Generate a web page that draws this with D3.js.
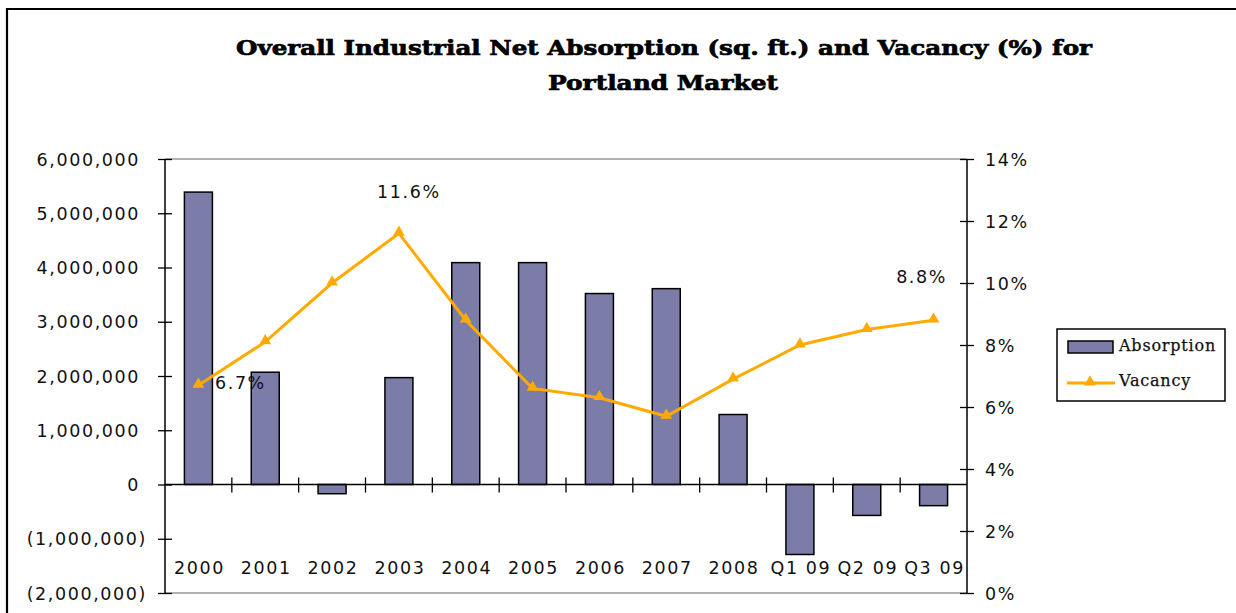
<!DOCTYPE html>
<html>
<head>
<meta charset="utf-8">
<script src="https://cdn.jsdelivr.net/npm/d3@7"></script>
<style>
  body { margin: 0; background: #fff; }
  svg { display: block; }
  .tick text, .lbl { font-family: "DejaVu Sans", sans-serif; font-size: 17.5px; letter-spacing: 1.6px; fill: #111; }
  .legend text { font-family: "DejaVu Serif", serif; font-size: 16px; letter-spacing: 0.8px; fill: #111; stroke: #111; stroke-width: 0.25px; }
</style>
</head>
<body>
<div id="content"></div>
<script>
// data
const categories = ["2000", "2001", "2002", "2003", "2004", "2005", "2006", "2007", "2008", "Q1 09", "Q2 09", "Q3 09"];
const absorption = [5390000, 2070000, -170000, 1970000, 4090000, 4090000, 3520000, 3610000, 1290000, -1290000, -570000, -390000];
const vacancy = [0.067, 0.081, 0.100, 0.116, 0.088, 0.066, 0.063, 0.057, 0.069, 0.080, 0.085, 0.088];
const left_ticks = [-2000000, -1000000, 0, 1000000, 2000000, 3000000, 4000000, 5000000, 6000000];
const right_ticks = [0, 0.02, 0.04, 0.06, 0.08, 0.10, 0.12, 0.14];
// which points get a value label
const labelled = [0, 3, 11];

const width = 1236, height = 613;
const bar_color = "#7b7ca8";
const line_color = "#ffaa00";

var svg = d3
    .select("#content")
    .append("svg")
    .attr("width", width)
    .attr("height", height);

// outer frame (only top and left edges show)
svg.append("path")
    .attr("d", "M7,613 V9 H1236")
    .attr("fill", "none")
    .attr("stroke", "#000")
    .attr("stroke-width", 2.2);

// title
var title = svg.append("g")
    .style("font-family", "'DejaVu Serif', serif")
    .style("font-weight", "bold")
    .style("font-size", "21px")
    .style("white-space", "pre")
    .attr("stroke", "#000")
    .attr("stroke-width", 0.7)
    .attr("text-anchor", "middle");
title.append("text")
    .attr("x", 664).attr("y", 55)
    .attr("textLength", 856)
    .attr("lengthAdjust", "spacingAndGlyphs")
    .text("Overall Industrial Net Absorption (sq. ft.)  and Vacancy (%) for");
title.append("text")
    .attr("x", 663).attr("y", 90)
    .attr("textLength", 230)
    .attr("lengthAdjust", "spacingAndGlyphs")
    .text("Portland Market");

const x0 = 165, x1 = 967, y_top = 159, y_bot = 593;

var x = d3.scaleBand()
    .domain(categories)
    .range([x0, x1]);

var y_left = d3.scaleLinear()
    .domain([-2000000, 6000000])
    .range([y_bot, y_top]);

var y_right = d3.scaleLinear()
    .domain([0, 0.14])
    .range([y_bot, y_top]);

// grey plot-area edges
svg.append("line")
    .attr("x1", x0).attr("x2", x1).attr("y1", y_top).attr("y2", y_top)
    .attr("stroke", "#999").attr("stroke-width", 1.5);
svg.append("line")
    .attr("x1", x0).attr("x2", x1).attr("y1", y_bot).attr("y2", y_bot)
    .attr("stroke", "#999").attr("stroke-width", 1.5);

// bars
svg.append("g")
    .selectAll("rect")
    .data(absorption)
    .join("rect")
    .attr("x", (d, i) => x(categories[i]) + x.bandwidth() / 2 - 14)
    .attr("width", 28)
    .attr("y", d => y_left(Math.max(0, d)))
    .attr("height", d => Math.abs(y_left(d) - y_left(0)))
    .attr("fill", bar_color)
    .attr("stroke", "#000")
    .attr("stroke-width", 1.5);

// category axis on the zero line
var zero_y = y_left(0);
svg.append("line")
    .attr("x1", x0).attr("x2", x1).attr("y1", zero_y).attr("y2", zero_y)
    .attr("stroke", "#000").attr("stroke-width", 1.5);
svg.append("g")
    .selectAll("line")
    .data(categories.slice(1))
    .join("line")
    .attr("x1", d => x(d)).attr("x2", d => x(d))
    .attr("y1", zero_y - 7).attr("y2", zero_y + 8)
    .attr("stroke", "#000").attr("stroke-width", 1.3);
svg.append("g")
    .selectAll("text")
    .data(categories)
    .join("text")
    .attr("class", "lbl")
    .attr("x", d => x(d) + x.bandwidth() / 2 + 1)
    .attr("y", 574)
    .attr("text-anchor", "middle")
    .text(d => d);

// left axis
var fmt_abs = function (d) {
    var s = d3.format(",")(Math.abs(d));
    return d < 0 ? "(" + s + ")" : s;
};
var left_axis = svg.append("g")
    .attr("transform", "translate(" + x0 + ",0)")
    .call(d3.axisLeft(y_left).tickValues(left_ticks).tickFormat(fmt_abs).tickSize(7).tickSizeOuter(0));
left_axis.select(".domain").attr("stroke", "#000").attr("stroke-width", 1.5).attr("d", "M0," + y_top + "V" + y_bot);
left_axis.selectAll(".tick line").attr("x2", -7).attr("x1", 7).attr("stroke-width", 1.3);
left_axis.selectAll(".tick text")
    .attr("x", d => d < 0 ? -18 : -25)
    .attr("dy", "0.35em");

// right axis
var right_axis = svg.append("g")
    .attr("transform", "translate(" + x1 + ",0)")
    .call(d3.axisRight(y_right).tickValues(right_ticks).tickFormat(d3.format(".0%")).tickSize(7).tickSizeOuter(0));
right_axis.select(".domain").attr("stroke", "#000").attr("stroke-width", 1.5).attr("d", "M0," + y_top + "V" + y_bot);
right_axis.selectAll(".tick line").attr("x1", -7).attr("x2", 7).attr("stroke-width", 1.3);
right_axis.selectAll(".tick text")
    .attr("x", 18)
    .attr("dy", "0.35em");

// vacancy line
var line = d3.line()
    .x((d, i) => x(categories[i]) + x.bandwidth() / 2)
    .y(d => y_right(d));
svg.append("path")
    .datum(vacancy)
    .attr("d", line)
    .attr("fill", "none")
    .attr("stroke", line_color)
    .attr("stroke-width", 3);

var tri = d3.symbol().type(d3.symbolTriangle).size(60);
svg.append("g")
    .selectAll("path")
    .data(vacancy)
    .join("path")
    .attr("d", tri)
    .attr("transform", (d, i) => "translate(" + (x(categories[i]) + x.bandwidth() / 2) + "," + (y_right(d) - 1) + ")")
    .attr("fill", line_color);

// value labels
var label_pos = { 0: [42, -2], 3: [10, -41], 11: [-12, -43] };
svg.append("g")
    .selectAll("text")
    .data(labelled)
    .join("text")
    .attr("class", "lbl")
    .attr("text-anchor", "middle")
    .attr("x", i => x(categories[i]) + x.bandwidth() / 2 + label_pos[i][0])
    .attr("y", i => y_right(vacancy[i]) + label_pos[i][1] + 6)
    .text(i => d3.format(".1%")(vacancy[i]));

// legend
var legend = svg.append("g").attr("class", "legend");
legend.append("rect")
    .attr("x", 1057).attr("y", 329).attr("width", 168).attr("height", 72)
    .attr("fill", "#fff").attr("stroke", "#000").attr("stroke-width", 1.5);
legend.append("rect")
    .attr("x", 1068).attr("y", 341).attr("width", 45).attr("height", 12)
    .attr("fill", bar_color).attr("stroke", "#000").attr("stroke-width", 1.5);
legend.append("text").attr("x", 1119).attr("y", 351).text("Absorption");
legend.append("line")
    .attr("x1", 1067).attr("x2", 1115).attr("y1", 383).attr("y2", 383)
    .attr("stroke", line_color).attr("stroke-width", 3);
legend.append("path")
    .attr("d", tri)
    .attr("transform", "translate(1090,382)")
    .attr("fill", line_color);
legend.append("text").attr("x", 1119).attr("y", 386).text("Vacancy");
</script>
</body>
</html>
